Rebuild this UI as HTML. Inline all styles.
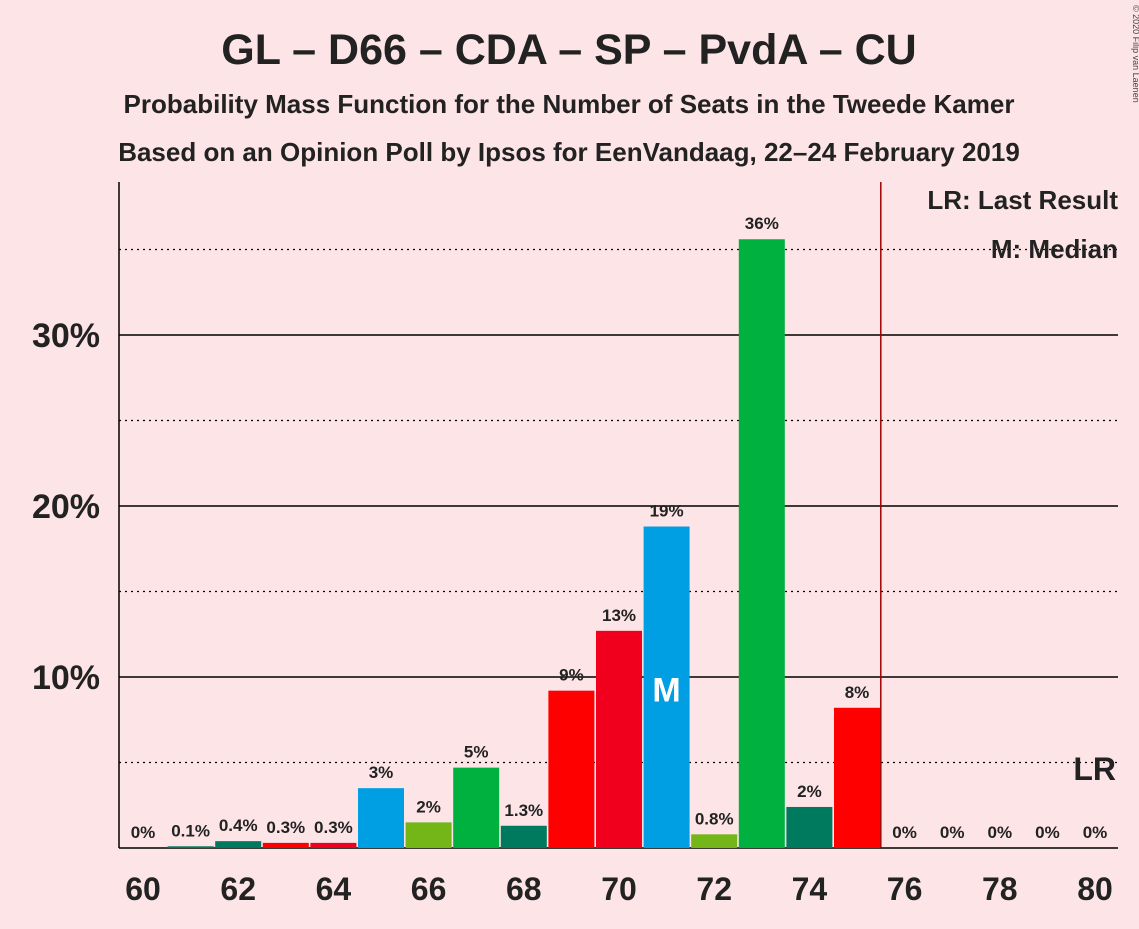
<!DOCTYPE html>
<html><head><meta charset="utf-8"><style>
body{margin:0;background:#fde4e7;font-family:"Liberation Sans",sans-serif}
</style></head><body>
<svg id="c" width="1139" height="924" xmlns="http://www.w3.org/2000/svg">
<rect width="1139" height="924" fill="#fde4e7"/>
<text x="569" y="64" text-anchor="middle" font-size="43" font-weight="bold" fill="#222">GL – D66 – CDA – SP – PvdA – CU</text>
<text x="569" y="113" text-anchor="middle" font-size="26" font-weight="bold" fill="#222">Probability Mass Function for the Number of Seats in the Tweede Kamer</text>
<text x="569" y="161" text-anchor="middle" font-size="26" font-weight="bold" fill="#222">Based on an Opinion Poll by Ipsos for EenVandaag, 22–24 February 2019</text>
<text x="1133" y="5" font-size="9" fill="#444" transform="rotate(90 1133 5)">© 2020 Filip van Laenen</text>
<g id="grid"></g><g id="bars"></g><g id="xt"></g>
<text x="1118" y="209" text-anchor="end" font-size="26" font-weight="bold" fill="#222">LR: Last Result</text>
<text x="1118" y="258" text-anchor="end" font-size="26" font-weight="bold" fill="#222">M: Median</text>
</svg>
<script>
const seats=[60,61,62,63,64,65,66,67,68,69,70,71,72,73,74,75,76,77,78,79,80];
const probs=[0,0.1,0.4,0.3,0.3,3.5,1.5,4.7,1.3,9.2,12.7,18.8,0.8,35.6,2.4,8.2,0,0,0,0,0];
const labels=["0%","0.1%","0.4%","0.3%","0.3%","3%","2%","5%","1.3%","9%","13%","19%","0.8%","36%","2%","8%","0%","0%","0%","0%","0%"];
const colors=["#00b13f","#007a5e","#007a5e","#ff0000","#f0001c","#009fe3","#74b618","#00b13f","#007a5e","#ff0000","#f0001c","#009fe3","#74b618","#00b13f","#007a5e","#ff0000","#00b13f","#00b13f","#00b13f","#00b13f","#00b13f"];
const yTicks=[10,20,30];
const medianSeat=71, lastResult=75.5;
const NS="http://www.w3.org/2000/svg";
const x=s=>143+(s-60)*47.6, y=p=>848-p*17.1;
function mk(t,a,p){const e=document.createElementNS(NS,t);for(const k in a)e.setAttribute(k,a[k]);p.appendChild(e);return e;}
const g=document.getElementById('grid'),b=document.getElementById('bars'),xt=document.getElementById('xt');
for(let p=5;p<=35;p+=5){const solid=p%10==0;const l=mk('line',{x1:119,x2:1118,y1:y(p),y2:y(p),stroke:'#000','stroke-width':solid?1.5:1.2,'stroke-dasharray':solid?'':'2,4'},g);

}
yTicks.forEach(t=>{const e=mk('text',{x:100,y:y(t)+12,'text-anchor':'end','font-size':34,'font-weight':'bold',fill:'#222'},g);e.textContent=t+'%';

});
const ax=mk('line',{x1:119,x2:119,y1:182,y2:848,stroke:'#000','stroke-width':1.5},g);


const xa=mk('line',{x1:119,x2:1118,y1:848,y2:848,stroke:'#000','stroke-width':1.5},g);


seats.forEach((s,i)=>{
 const h=probs[i]*17.1;
 if(h>0){const r=mk('rect',{x:x(s)-23,y:848-h,width:46,height:h,fill:colors[i]},b);
 
 }
 const t=mk('text',{x:x(s),y:848-h-10,'text-anchor':'middle','font-size':17,'font-weight':'bold',fill:'#222'},b);t.textContent=labels[i];
 
 
 if(s%2==0){const k=mk('text',{x:x(s),y:900,'text-anchor':'middle','font-size':32,'font-weight':'bold',fill:'#222'},xt);k.textContent=s;
 
 }
 if(s==medianSeat){const m=mk('text',{x:x(s),y:y(probs[i])+175,'text-anchor':'middle','font-size':34,'font-weight':'bold',fill:'#fff'},b);m.textContent='M';
 
 }
});
const lr=mk('line',{x1:x(lastResult),x2:x(lastResult),y1:182,y2:848,stroke:'#a00000','stroke-width':1.5},b);


const lt=mk('text',{x:1116,y:780,'text-anchor':'end','font-size':32,'font-weight':'bold',fill:'#222'},b);lt.textContent='LR';


</script>
</body></html>
